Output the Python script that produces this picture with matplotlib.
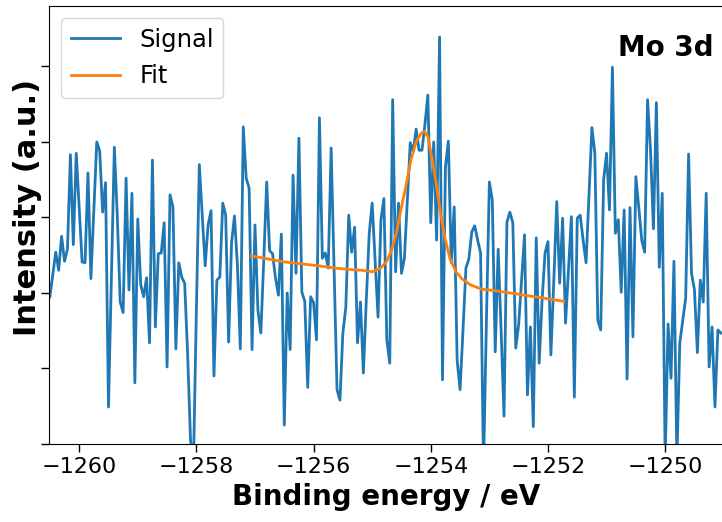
import numpy as np
import matplotlib
matplotlib.use("Agg")
import matplotlib.pyplot as plt

# XPS scan, Mo 3d region (intensity in arbitrary units, one unit per y tick)
scan_start = -1260.5
scan_step = 0.05
signal = [
    1.95, 2.24, 2.54, 2.30, 2.75, 2.42, 2.58, 3.83, 2.64, 3.85,
    3.14, 2.41, 2.40, 3.59, 2.19, 3.10, 4.00, 3.88, 3.07, 3.46,
    0.49, 2.21, 3.93, 3.03, 1.88, 1.74, 3.52, 2.04, 3.32, 0.81,
    2.98, 2.11, 1.95, 2.20, 1.34, 3.76, 1.55, 2.52, 2.53, 2.93,
    1.02, 3.30, 3.14, 1.26, 2.40, 2.21, 2.13, 1.21, 0.05, -0.28,
    1.77, 3.70, 3.03, 2.36, 2.90, 3.09, 0.90, 2.17, 2.21, 3.19,
    3.03, 1.35, 2.66, 3.02, 2.37, 1.26, 4.20, 3.52, 3.39, 1.25,
    2.90, 1.77, 1.47, 2.44, 3.47, 2.56, 2.52, 2.20, 1.97, 2.78,
    0.25, 2.00, 1.25, 3.56, 2.26, 4.05, 2.01, 1.89, 0.75, 1.95,
    1.87, 1.38, 4.32, 2.46, 2.53, 2.33, 3.92, 2.30, 0.72, 0.58,
    1.47, 1.81, 3.03, 2.54, 2.87, 1.34, 1.88, 0.94, 1.91, 2.79,
    3.19, 2.44, 1.68, 2.97, 3.25, 1.38, 1.07, 4.56, 2.28, 3.19,
    2.26, 2.46, 3.23, 3.99, 3.87, 4.17, 3.89, 3.89, 4.23, 4.62,
    2.93, 4.00, 2.70, 5.39, 0.85, 3.67, 4.01, 2.40, 3.14, 1.11,
    0.72, 1.51, 2.33, 2.45, 2.81, 2.89, 2.70, 2.53, -0.34, 1.64,
    3.47, 3.23, 1.22, 2.58, 1.51, 0.37, 2.94, 3.07, 2.93, 1.27,
    1.58, 2.17, 2.77, 0.65, 1.55, 0.23, 2.73, 1.07, 1.91, 2.53,
    2.68, 1.18, 2.17, 3.21, 2.13, 2.99, 1.60, 2.30, 3.01, 0.62,
    2.99, 3.03, 2.70, 2.40, 3.30, 4.19, 3.85, 1.64, 1.51, 3.50,
    3.85, 3.10, 4.99, 2.79, 2.97, 2.01, 3.10, 0.86, 3.13, 1.42,
    3.54, 3.13, 2.70, 2.54, 4.56, 3.89, 2.85, 4.52, 2.34, 3.32,
    -0.21, 1.59, 0.87, 2.42, -0.21, 1.34, 1.64, 1.93, 3.84, 2.26,
    2.04, 1.21, 2.17, 1.88, 3.32, 1.02, 1.55, 0.49, 1.51, 1.47,
]
energy = np.round(scan_start + scan_step * np.arange(len(signal)), 2)

# fitted envelope (peak + background)
fit_energy = [
    -1257.06, -1256.49, -1255.92, -1255.63, -1255.38, -1255.17, -1255.00,
    -1254.87, -1254.76, -1254.68, -1254.59, -1254.51, -1254.42, -1254.34,
    -1254.25, -1254.17, -1254.11, -1254.05, -1253.98, -1253.91, -1253.84,
    -1253.76, -1253.67, -1253.57, -1253.47, -1253.33, -1253.13, -1252.90,
    -1252.65, -1252.39, -1252.14, -1251.73,
]
fit_values = [
    2.49, 2.41, 2.36, 2.33, 2.31, 2.30, 2.28,
    2.32, 2.41, 2.54, 2.78, 3.10, 3.43, 3.76,
    4.00, 4.11, 4.14, 4.07, 3.79, 3.46, 3.09,
    2.73, 2.45, 2.28, 2.19, 2.11, 2.05, 2.03,
    2.00, 1.97, 1.94, 1.89,
]

x_ticks = [-1260, -1258, -1256, -1254, -1252, -1250]
y_ticks = [0, 1, 2, 3, 4, 5]

fig = plt.figure(figsize=(7.22, 5.22), dpi=100)
ax = fig.add_axes([49.3 / 722, 1 - 444 / 522, 1 - 49.3 / 722, 438 / 522])

ax.plot(energy, signal, color="#1f77b4", lw=2, label="Signal")
ax.plot(fit_energy, fit_values, color="#ff7f0e", lw=2, label="Fit")

ax.set_xlim(-1260.51, -1249.03)
ax.set_ylim(0, 5.8)
ax.set_xticks(x_ticks)
ax.set_xticklabels([f"\u2212{abs(t)}" for t in x_ticks])
ax.set_yticks(y_ticks)
ax.set_yticklabels([])
ax.tick_params(axis="both", length=6, width=1, labelsize=16)
ax.spines["right"].set_visible(False)

ax.set_xlabel("Binding energy / eV", fontsize=20, fontweight="bold", labelpad=4)
ax.set_ylabel("Intensity (a.u.)", fontsize=22, fontweight="bold")
# label sits a little above the axes centre in the reference
ax.yaxis.set_label_coords(-0.011, 0.54)
ax.legend(loc="upper left", fontsize=17.5)
fig.text(714 / 722, 1 - 48 / 522, "Mo 3d", ha="right", va="center",
         fontsize=20, fontweight="bold")

fig.savefig("out.png", dpi=100)
